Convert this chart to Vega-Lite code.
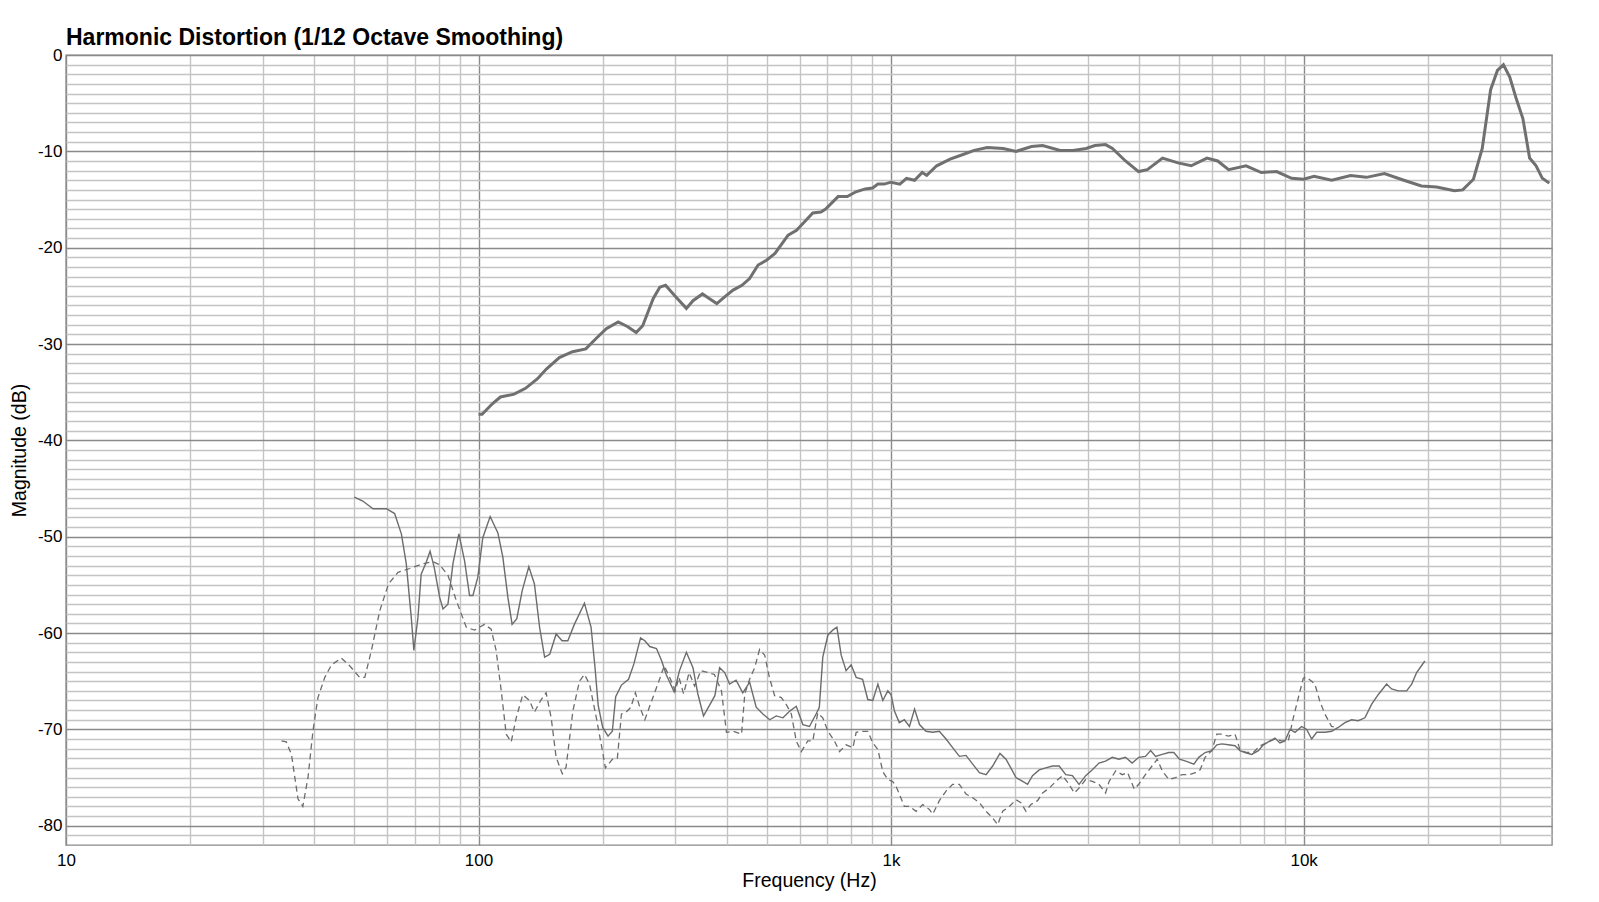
{
  "$schema": "https://vega.github.io/schema/vega-lite/v6.json",
  "description": "Harmonic distortion, 1/12 octave smoothing",
  "autosize": {"type": "none"},
  "padding": {"left": 66, "top": 55, "right": 47, "bottom": 57},
  "width": 1486,
  "height": 790,
  "background": "white",
  "title": {
    "text": "Harmonic Distortion (1/12 Octave Smoothing)",
    "anchor": "start",
    "frame": "group",
    "font": "Liberation Sans",
    "fontSize": 23,
    "fontWeight": "bold",
    "color": "#000000",
    "offset": -4
  },
  "datasets": {
    "fund": [
      {"f": 100, "db": -37.3}, {"f": 102, "db": -37.3}, {"f": 108, "db": -36.2}, {"f": 113, "db": -35.5},
      {"f": 122, "db": -35.2}, {"f": 130, "db": -34.6}, {"f": 139, "db": -33.6}, {"f": 146, "db": -32.6},
      {"f": 157, "db": -31.4}, {"f": 169, "db": -30.8}, {"f": 182, "db": -30.5}, {"f": 193, "db": -29.4},
      {"f": 204, "db": -28.4}, {"f": 218, "db": -27.7}, {"f": 230, "db": -28.2}, {"f": 241, "db": -28.8},
      {"f": 250, "db": -28.1}, {"f": 265, "db": -25.3}, {"f": 275, "db": -24.1}, {"f": 284, "db": -23.9},
      {"f": 299, "db": -25.0}, {"f": 319, "db": -26.3}, {"f": 331, "db": -25.5}, {"f": 349, "db": -24.8},
      {"f": 363, "db": -25.3}, {"f": 378, "db": -25.8}, {"f": 395, "db": -25.1}, {"f": 414, "db": -24.4},
      {"f": 435, "db": -23.9}, {"f": 454, "db": -23.2}, {"f": 476, "db": -21.8}, {"f": 499, "db": -21.3},
      {"f": 523, "db": -20.6}, {"f": 563, "db": -18.7}, {"f": 590, "db": -18.2}, {"f": 617, "db": -17.3},
      {"f": 646, "db": -16.4}, {"f": 676, "db": -16.3}, {"f": 694, "db": -16.0}, {"f": 744, "db": -14.7},
      {"f": 783, "db": -14.7}, {"f": 822, "db": -14.2}, {"f": 866, "db": -13.9}, {"f": 902, "db": -13.8},
      {"f": 929, "db": -13.4}, {"f": 962, "db": -13.4}, {"f": 1000, "db": -13.2}, {"f": 1050, "db": -13.4},
      {"f": 1090, "db": -12.8}, {"f": 1140, "db": -13.0}, {"f": 1190, "db": -12.2}, {"f": 1220, "db": -12.5},
      {"f": 1290, "db": -11.5}, {"f": 1390, "db": -10.8}, {"f": 1500, "db": -10.3}, {"f": 1590, "db": -9.9},
      {"f": 1710, "db": -9.6}, {"f": 1870, "db": -9.7}, {"f": 2010, "db": -10.0}, {"f": 2190, "db": -9.5},
      {"f": 2330, "db": -9.4}, {"f": 2570, "db": -9.9}, {"f": 2760, "db": -9.9}, {"f": 2970, "db": -9.7},
      {"f": 3120, "db": -9.4}, {"f": 3310, "db": -9.3}, {"f": 3440, "db": -9.7}, {"f": 3700, "db": -11.0},
      {"f": 3980, "db": -12.1}, {"f": 4180, "db": -11.9}, {"f": 4550, "db": -10.7}, {"f": 4960, "db": -11.2},
      {"f": 5340, "db": -11.5}, {"f": 5830, "db": -10.7}, {"f": 6190, "db": -11.0}, {"f": 6580, "db": -11.9},
      {"f": 7250, "db": -11.5}, {"f": 7900, "db": -12.2}, {"f": 8600, "db": -12.1}, {"f": 9350, "db": -12.8},
      {"f": 10000, "db": -12.9}, {"f": 10600, "db": -12.6}, {"f": 11700, "db": -13.0}, {"f": 13000, "db": -12.5},
      {"f": 14200, "db": -12.7}, {"f": 15700, "db": -12.3}, {"f": 17500, "db": -13.0}, {"f": 19300, "db": -13.6},
      {"f": 21000, "db": -13.7}, {"f": 23200, "db": -14.1}, {"f": 24300, "db": -14.0}, {"f": 25800, "db": -12.9},
      {"f": 27100, "db": -9.7}, {"f": 28400, "db": -3.6}, {"f": 29500, "db": -1.6}, {"f": 30500, "db": -1.0},
      {"f": 31600, "db": -2.3}, {"f": 32800, "db": -4.6}, {"f": 34000, "db": -6.6}, {"f": 35300, "db": -10.7},
      {"f": 36600, "db": -11.5}, {"f": 37900, "db": -12.8}, {"f": 39400, "db": -13.3}
    ],
    "h2": [
      {"f": 50, "db": -45.9}, {"f": 52.4, "db": -46.3}, {"f": 55.5, "db": -47.1}, {"f": 59.8, "db": -47.1},
      {"f": 62.6, "db": -47.6}, {"f": 65, "db": -49.7}, {"f": 66.8, "db": -52.8}, {"f": 68.7, "db": -58.4},
      {"f": 69.7, "db": -61.8}, {"f": 71.3, "db": -58.4}, {"f": 72.6, "db": -53.9}, {"f": 74.6, "db": -52.7},
      {"f": 76.3, "db": -51.5}, {"f": 78.1, "db": -53.2}, {"f": 80.5, "db": -56.3}, {"f": 82, "db": -57.5},
      {"f": 84.3, "db": -57.0}, {"f": 86.7, "db": -52.8}, {"f": 89.6, "db": -49.7}, {"f": 92.5, "db": -52.5},
      {"f": 95.1, "db": -56.1}, {"f": 96.9, "db": -56.1}, {"f": 99.6, "db": -54.2}, {"f": 102.4, "db": -50.1},
      {"f": 106.7, "db": -47.9}, {"f": 111.4, "db": -49.6}, {"f": 114.5, "db": -52.1}, {"f": 117.8, "db": -56.3},
      {"f": 120.6, "db": -59.1}, {"f": 123.8, "db": -58.5}, {"f": 127.6, "db": -55.6}, {"f": 132.4, "db": -53.1},
      {"f": 136.6, "db": -54.9}, {"f": 140.6, "db": -59.4}, {"f": 144.6, "db": -62.5}, {"f": 148.8, "db": -62.2},
      {"f": 154.2, "db": -60.1}, {"f": 159.4, "db": -60.8}, {"f": 164.6, "db": -60.8}, {"f": 170.7, "db": -59.1},
      {"f": 180.6, "db": -56.9}, {"f": 187.4, "db": -59.4}, {"f": 191.5, "db": -63.5}, {"f": 195, "db": -67.5},
      {"f": 200, "db": -69.8}, {"f": 206, "db": -70.7}, {"f": 211, "db": -70.2}, {"f": 215, "db": -66.6},
      {"f": 222, "db": -65.4}, {"f": 231, "db": -64.8}, {"f": 238, "db": -63.2}, {"f": 247, "db": -60.5},
      {"f": 253, "db": -60.8}, {"f": 260, "db": -61.4}, {"f": 270, "db": -61.6}, {"f": 278, "db": -62.9},
      {"f": 285, "db": -64.3}, {"f": 298, "db": -66.1}, {"f": 307, "db": -63.9}, {"f": 319, "db": -62.0},
      {"f": 331, "db": -63.6}, {"f": 340, "db": -66.3}, {"f": 351, "db": -68.6}, {"f": 364, "db": -67.4},
      {"f": 374, "db": -66.5}, {"f": 384, "db": -63.6}, {"f": 395, "db": -64.1}, {"f": 406, "db": -65.3},
      {"f": 421, "db": -64.9}, {"f": 437, "db": -66.2}, {"f": 454, "db": -65.1}, {"f": 471, "db": -67.7},
      {"f": 489, "db": -68.4}, {"f": 508, "db": -69.0}, {"f": 527, "db": -68.6}, {"f": 547, "db": -68.8},
      {"f": 568, "db": -68.1}, {"f": 589, "db": -67.6}, {"f": 611, "db": -69.5}, {"f": 634, "db": -69.7},
      {"f": 658, "db": -68.4}, {"f": 670, "db": -67.7}, {"f": 683, "db": -62.5}, {"f": 703, "db": -60.2},
      {"f": 722, "db": -59.7}, {"f": 739, "db": -59.4}, {"f": 757, "db": -62.3}, {"f": 778, "db": -63.9},
      {"f": 800, "db": -63.3}, {"f": 823, "db": -64.6}, {"f": 853, "db": -64.8}, {"f": 878, "db": -66.9},
      {"f": 903, "db": -67.0}, {"f": 929, "db": -65.3}, {"f": 955, "db": -67.0}, {"f": 982, "db": -66.0},
      {"f": 1000, "db": -66.4}, {"f": 1019, "db": -68.1}, {"f": 1047, "db": -69.3}, {"f": 1077, "db": -69.0},
      {"f": 1108, "db": -69.7}, {"f": 1140, "db": -67.9}, {"f": 1172, "db": -69.5}, {"f": 1215, "db": -70.2},
      {"f": 1262, "db": -70.3}, {"f": 1309, "db": -70.2}, {"f": 1359, "db": -71.0}, {"f": 1410, "db": -71.9},
      {"f": 1464, "db": -72.8}, {"f": 1519, "db": -72.7}, {"f": 1577, "db": -73.6}, {"f": 1637, "db": -74.5},
      {"f": 1699, "db": -74.7}, {"f": 1763, "db": -73.8}, {"f": 1836, "db": -72.5}, {"f": 1899, "db": -73.1},
      {"f": 1951, "db": -74.0}, {"f": 2008, "db": -75.0}, {"f": 2085, "db": -75.4}, {"f": 2142, "db": -75.7},
      {"f": 2202, "db": -74.8}, {"f": 2286, "db": -74.2}, {"f": 2372, "db": -74.0}, {"f": 2461, "db": -73.8},
      {"f": 2555, "db": -73.8}, {"f": 2651, "db": -74.7}, {"f": 2751, "db": -74.8}, {"f": 2855, "db": -75.7},
      {"f": 2963, "db": -74.8}, {"f": 3075, "db": -74.2}, {"f": 3191, "db": -73.5}, {"f": 3311, "db": -73.3},
      {"f": 3436, "db": -72.9}, {"f": 3566, "db": -73.1}, {"f": 3700, "db": -72.9}, {"f": 3840, "db": -73.5},
      {"f": 3985, "db": -72.9}, {"f": 4135, "db": -72.8}, {"f": 4258, "db": -72.2}, {"f": 4377, "db": -72.8},
      {"f": 4542, "db": -72.6}, {"f": 4713, "db": -72.4}, {"f": 4846, "db": -72.4}, {"f": 5000, "db": -73.1},
      {"f": 5180, "db": -73.3}, {"f": 5420, "db": -73.6}, {"f": 5570, "db": -72.9}, {"f": 5770, "db": -72.4},
      {"f": 5990, "db": -72.2}, {"f": 6160, "db": -71.6}, {"f": 6336, "db": -71.5}, {"f": 6570, "db": -71.6},
      {"f": 6820, "db": -71.7}, {"f": 7010, "db": -72.2}, {"f": 7210, "db": -72.4}, {"f": 7480, "db": -72.6},
      {"f": 7770, "db": -72.2}, {"f": 7990, "db": -71.6}, {"f": 8290, "db": -71.2}, {"f": 8520, "db": -70.9},
      {"f": 8760, "db": -71.4}, {"f": 9010, "db": -71.2}, {"f": 9270, "db": -70.0}, {"f": 9530, "db": -70.3},
      {"f": 9890, "db": -69.7}, {"f": 10170, "db": -70.0}, {"f": 10460, "db": -71.0}, {"f": 10760, "db": -70.3},
      {"f": 11260, "db": -70.3}, {"f": 11690, "db": -70.2}, {"f": 12130, "db": -69.8}, {"f": 12590, "db": -69.3},
      {"f": 13070, "db": -69.0}, {"f": 13560, "db": -69.1}, {"f": 14080, "db": -68.8}, {"f": 14610, "db": -67.4},
      {"f": 15160, "db": -66.4}, {"f": 15890, "db": -65.3}, {"f": 16340, "db": -65.8}, {"f": 16960, "db": -66.0},
      {"f": 17770, "db": -66.0}, {"f": 18280, "db": -65.3}, {"f": 18790, "db": -64.1}, {"f": 19670, "db": -62.9}
    ],
    "h3": [
      {"f": 33.3, "db": -71.2}, {"f": 34.2, "db": -71.3}, {"f": 35.2, "db": -72.6}, {"f": 36.5, "db": -77.2},
      {"f": 37.5, "db": -78.0}, {"f": 38.6, "db": -75.0}, {"f": 39.7, "db": -70.1}, {"f": 40.8, "db": -66.7},
      {"f": 42.4, "db": -64.6}, {"f": 44, "db": -63.3}, {"f": 46.5, "db": -62.6}, {"f": 48.7, "db": -63.4},
      {"f": 51.5, "db": -64.6}, {"f": 53, "db": -64.6}, {"f": 55, "db": -61.8}, {"f": 57.6, "db": -57.7},
      {"f": 60.5, "db": -54.9}, {"f": 63.8, "db": -53.7}, {"f": 68.1, "db": -53.3}, {"f": 73.3, "db": -52.8},
      {"f": 77.5, "db": -52.6}, {"f": 80.4, "db": -52.9}, {"f": 84.3, "db": -54.0}, {"f": 88.3, "db": -56.6},
      {"f": 93.4, "db": -59.4}, {"f": 97.8, "db": -59.7}, {"f": 103.4, "db": -59.1}, {"f": 107.3, "db": -59.6},
      {"f": 110.3, "db": -61.8}, {"f": 113.5, "db": -66.0}, {"f": 116.7, "db": -70.5}, {"f": 120, "db": -71.3},
      {"f": 123.4, "db": -68.8}, {"f": 128, "db": -66.4}, {"f": 132.9, "db": -67.0}, {"f": 136.6, "db": -68.2},
      {"f": 141.9, "db": -66.9}, {"f": 145.8, "db": -66.2}, {"f": 150, "db": -68.8}, {"f": 154.2, "db": -72.9},
      {"f": 159.6, "db": -74.6}, {"f": 163, "db": -73.9}, {"f": 169.3, "db": -68.1}, {"f": 175.6, "db": -65.0},
      {"f": 180.6, "db": -64.3}, {"f": 185.8, "db": -65.3}, {"f": 193, "db": -68.8}, {"f": 199, "db": -71.9},
      {"f": 203, "db": -74.0}, {"f": 211, "db": -73.1}, {"f": 217, "db": -73.0}, {"f": 222, "db": -68.4},
      {"f": 228, "db": -68.2}, {"f": 234, "db": -67.7}, {"f": 240, "db": -66.2}, {"f": 246, "db": -67.7},
      {"f": 253, "db": -69.0}, {"f": 263, "db": -67.0}, {"f": 273, "db": -65.1}, {"f": 282, "db": -63.4},
      {"f": 292, "db": -64.8}, {"f": 300, "db": -66.0}, {"f": 306, "db": -64.6}, {"f": 314, "db": -66.3},
      {"f": 324, "db": -64.1}, {"f": 334, "db": -65.5}, {"f": 346, "db": -63.9}, {"f": 360, "db": -64.1},
      {"f": 373, "db": -64.3}, {"f": 388, "db": -66.0}, {"f": 399, "db": -70.3}, {"f": 414, "db": -70.2},
      {"f": 434, "db": -70.5}, {"f": 442, "db": -66.3}, {"f": 454, "db": -64.8}, {"f": 467, "db": -63.6},
      {"f": 480, "db": -61.7}, {"f": 494, "db": -62.3}, {"f": 507, "db": -64.6}, {"f": 522, "db": -66.5},
      {"f": 542, "db": -66.7}, {"f": 557, "db": -67.4}, {"f": 573, "db": -68.4}, {"f": 589, "db": -71.2},
      {"f": 606, "db": -72.3}, {"f": 628, "db": -71.2}, {"f": 646, "db": -71.2}, {"f": 664, "db": -68.3},
      {"f": 683, "db": -68.8}, {"f": 703, "db": -70.2}, {"f": 729, "db": -71.2}, {"f": 750, "db": -72.3},
      {"f": 778, "db": -71.6}, {"f": 808, "db": -71.9}, {"f": 823, "db": -70.3}, {"f": 846, "db": -70.2},
      {"f": 878, "db": -70.2}, {"f": 903, "db": -71.4}, {"f": 929, "db": -72.1}, {"f": 955, "db": -74.4},
      {"f": 982, "db": -75.2}, {"f": 1009, "db": -75.4}, {"f": 1028, "db": -75.9}, {"f": 1047, "db": -76.7},
      {"f": 1077, "db": -78.0}, {"f": 1108, "db": -78.0}, {"f": 1150, "db": -78.5}, {"f": 1193, "db": -77.8},
      {"f": 1238, "db": -78.3}, {"f": 1262, "db": -78.8}, {"f": 1309, "db": -77.4}, {"f": 1359, "db": -76.4},
      {"f": 1410, "db": -75.7}, {"f": 1464, "db": -75.7}, {"f": 1519, "db": -76.7}, {"f": 1577, "db": -77.1},
      {"f": 1637, "db": -77.6}, {"f": 1699, "db": -78.5}, {"f": 1763, "db": -79.2}, {"f": 1813, "db": -79.9},
      {"f": 1864, "db": -78.5}, {"f": 1935, "db": -78.0}, {"f": 2008, "db": -77.3}, {"f": 2064, "db": -77.6},
      {"f": 2123, "db": -78.5}, {"f": 2182, "db": -77.8}, {"f": 2265, "db": -77.4}, {"f": 2329, "db": -76.6},
      {"f": 2417, "db": -76.1}, {"f": 2508, "db": -75.4}, {"f": 2603, "db": -74.8}, {"f": 2701, "db": -75.7},
      {"f": 2780, "db": -76.6}, {"f": 2855, "db": -76.1}, {"f": 2963, "db": -75.2}, {"f": 3075, "db": -75.4},
      {"f": 3191, "db": -75.7}, {"f": 3311, "db": -76.6}, {"f": 3377, "db": -75.4}, {"f": 3503, "db": -74.3},
      {"f": 3635, "db": -74.7}, {"f": 3745, "db": -74.5}, {"f": 3886, "db": -76.2}, {"f": 3985, "db": -75.7},
      {"f": 4135, "db": -74.7}, {"f": 4291, "db": -73.8}, {"f": 4416, "db": -73.1}, {"f": 4542, "db": -74.3},
      {"f": 4713, "db": -75.2}, {"f": 4891, "db": -75.0}, {"f": 5076, "db": -74.7}, {"f": 5268, "db": -74.7},
      {"f": 5467, "db": -74.5}, {"f": 5612, "db": -74.2}, {"f": 5770, "db": -72.9}, {"f": 5990, "db": -72.2},
      {"f": 6160, "db": -70.5}, {"f": 6336, "db": -70.5}, {"f": 6570, "db": -70.7}, {"f": 6820, "db": -70.5},
      {"f": 7010, "db": -72.1}, {"f": 7270, "db": -72.4}, {"f": 7550, "db": -72.4}, {"f": 7840, "db": -71.7},
      {"f": 8140, "db": -71.4}, {"f": 8520, "db": -71.0}, {"f": 8840, "db": -71.2}, {"f": 9180, "db": -71.2},
      {"f": 9440, "db": -68.8}, {"f": 9710, "db": -66.7}, {"f": 9980, "db": -64.7}, {"f": 10170, "db": -64.6},
      {"f": 10460, "db": -65.0}, {"f": 10650, "db": -65.3}, {"f": 10950, "db": -67.1}, {"f": 11260, "db": -68.4},
      {"f": 11690, "db": -69.7}, {"f": 12020, "db": -69.8}
    ]
  },
  "encoding": {
    "x": {
      "field": "f",
      "type": "quantitative",
      "scale": {"type": "log", "domain": [10, 40000], "nice": false},
      "axis": {
        "title": "Frequency (Hz)",
        "values": [10, 20, 30, 40, 50, 60, 70, 80, 90, 100, 200, 300, 400, 500, 600, 700, 800, 900, 1000, 2000, 3000, 4000, 5000, 6000, 7000, 8000, 9000, 10000, 20000, 30000],
        "labelExpr": "datum.value == 10 ? '10' : datum.value == 100 ? '100' : datum.value == 1000 ? '1k' : datum.value == 10000 ? '10k' : ''",
        "gridColor": {"condition": {"test": "datum.value == 10 || datum.value == 100 || datum.value == 1000 || datum.value == 10000", "value": "#8a8a8a"}, "value": "#c4c4c4"},
        "gridWidth": 1.4,
        "ticks": false,
        "domain": false,
        "labelFlush": false,
        "labelPadding": 7,
        "titlePadding": 3
      }
    },
    "y": {
      "field": "db",
      "type": "quantitative",
      "scale": {"domain": [-82, 0], "nice": false, "zero": false},
      "axis": {
        "title": "Magnitude (dB)",
        "values": [0, -1, -2, -3, -4, -5, -6, -7, -8, -9, -10, -11, -12, -13, -14, -15, -16, -17, -18, -19, -20, -21, -22, -23, -24, -25, -26, -27, -28, -29, -30, -31, -32, -33, -34, -35, -36, -37, -38, -39, -40, -41, -42, -43, -44, -45, -46, -47, -48, -49, -50, -51, -52, -53, -54, -55, -56, -57, -58, -59, -60, -61, -62, -63, -64, -65, -66, -67, -68, -69, -70, -71, -72, -73, -74, -75, -76, -77, -78, -79, -80, -81],
        "labelExpr": "datum.value % 10 == 0 ? '' + datum.value : ''",
        "gridColor": {"condition": {"test": "datum.value % 10 == 0", "value": "#8a8a8a"}, "value": "#c4c4c4"},
        "gridWidth": 1.4,
        "ticks": false,
        "domain": false,
        "labelFlush": false,
        "labelPadding": 4,
        "titlePadding": 8
      }
    }
  },
  "layer": [
    {
      "data": {"name": "h3"},
      "mark": {"type": "line", "color": "#6c6c6c", "strokeWidth": 1.3, "strokeDash": [6, 4], "clip": true}
    },
    {
      "data": {"name": "h2"},
      "mark": {"type": "line", "color": "#6c6c6c", "strokeWidth": 1.4, "clip": true}
    },
    {
      "data": {"name": "fund"},
      "mark": {"type": "line", "color": "#707070", "strokeWidth": 3, "clip": true}
    }
  ],
  "config": {
    "view": {"stroke": "#8a8a8a", "strokeWidth": 1.4},
    "axis": {
      "labelFont": "Liberation Sans",
      "labelFontSize": 17,
      "labelColor": "#000000",
      "titleFont": "Liberation Sans",
      "titleFontSize": 19.5,
      "titleFontWeight": "normal",
      "titleColor": "#000000",
      "labelOverlap": false
    }
  }
}
